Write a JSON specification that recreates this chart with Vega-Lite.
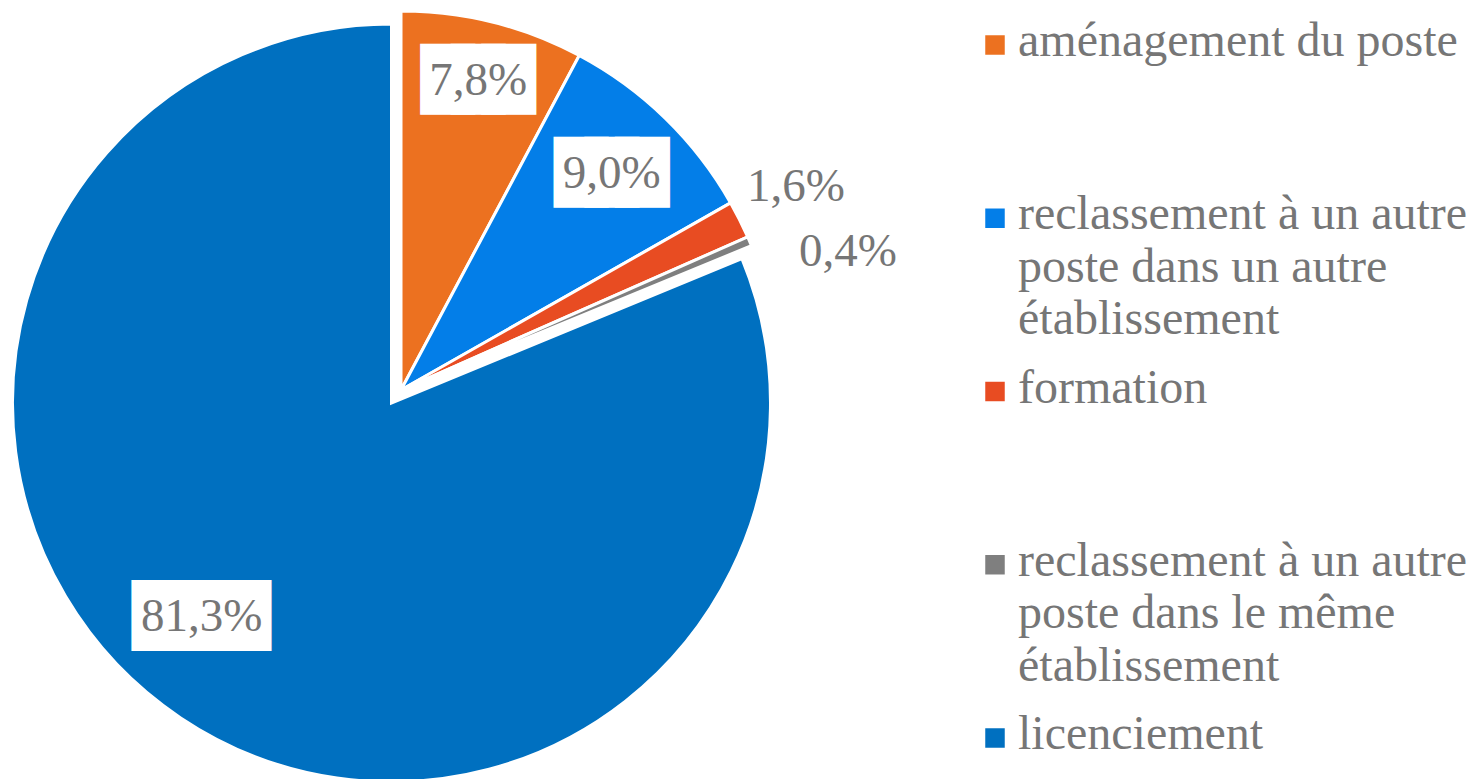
{
  "$schema": "https://vega.github.io/schema/vega-lite/v6.json",
  "padding": 0,
  "spacing": 0,
  "bounds": "flush",
  "background": "white",
  "datasets": {
    "d": [
      {"rank": 1, "cat": "aménagement du poste", "value": 7.8, "lab": "7,8%", "leg": "aménagement du poste"},
      {"rank": 2, "cat": "reclassement à un autre poste dans un autre établissement", "value": 9.0, "lab": "9,0%", "leg": "reclassement à un autre\nposte dans un autre\nétablissement"},
      {"rank": 3, "cat": "formation", "value": 1.6, "lab": "1,6%", "leg": "formation"},
      {"rank": 4, "cat": "reclassement à un autre poste dans le même établissement", "value": 0.4, "lab": "0,4%", "leg": "reclassement à un autre\nposte dans le même\nétablissement"},
      {"rank": 5, "cat": "licenciement", "value": 81.3, "lab": "81,3%", "leg": "licenciement"}
    ]
  },
  "hconcat": [
    {
      "width": 802,
      "height": 780,
      "data": {"name": "d"},
      "encoding": {
        "theta": {"field": "value", "type": "quantitative", "stack": true},
        "order": {"field": "rank", "type": "quantitative"},
        "detail": {"field": "cat", "type": "nominal"}
      },
      "resolve": {"scale": {"theta": "independent"}},
      "layer": [
        {
          "mark": {"type": "arc", "radius": 379, "stroke": "white", "strokeWidth": 3},
          "encoding": {
            "color": {"field": "cat", "type": "nominal", "legend": null,
              "scale": {"domain": ["aménagement du poste", "reclassement à un autre poste dans un autre établissement", "formation", "reclassement à un autre poste dans le même établissement", "licenciement"],
                        "range": ["#EC7120", "#037EE8", "#E84C22", "#7F7F7F", "#0070C0"]}},
            "opacity": {"condition": {"test": "datum.rank == 5", "value": 0}, "value": 1}
          }
        },
        {
          "mark": {"type": "arc", "radius": 379, "stroke": "white", "strokeWidth": 3, "xOffset": -9.5, "yOffset": 13},
          "encoding": {
            "color": {"field": "cat", "type": "nominal", "legend": null,
              "scale": {"domain": ["aménagement du poste", "reclassement à un autre poste dans un autre établissement", "formation", "reclassement à un autre poste dans le même établissement", "licenciement"],
                        "range": ["#EC7120", "#037EE8", "#E84C22", "#7F7F7F", "#0070C0"]}},
            "opacity": {"condition": {"test": "datum.rank == 5", "value": 1}, "value": 0}
          }
        },
        {
          "mark": {"type": "text", "radius": 319, "font": "DejaVu Sans", "fontSize": 39.8, "fill": "white", "stroke": "white", "strokeWidth": 23.8, "strokeJoin": "miter", "align": "center", "baseline": "middle"},
          "encoding": {"text": {"condition": {"test": "datum.rank == 1", "value": "███"}, "value": ""}}
        },
        {
          "mark": {"type": "text", "radius": 319, "font": "Liberation Serif", "fontSize": 47, "fill": "#767676", "align": "center", "baseline": "middle"},
          "encoding": {"text": {"condition": {"test": "datum.rank == 1", "field": "lab", "type": "nominal"}, "value": ""}}
        },
        {
          "mark": {"type": "text", "radius": 302, "font": "DejaVu Sans", "fontSize": 39.8, "fill": "white", "stroke": "white", "strokeWidth": 23.8, "strokeJoin": "miter", "align": "center", "baseline": "middle"},
          "encoding": {"text": {"condition": {"test": "datum.rank == 2", "value": "███"}, "value": ""}}
        },
        {
          "mark": {"type": "text", "radius": 302, "font": "Liberation Serif", "fontSize": 47, "fill": "#767676", "align": "center", "baseline": "middle"},
          "encoding": {"text": {"condition": {"test": "datum.rank == 2", "field": "lab", "type": "nominal"}, "value": ""}}
        },
        {
          "mark": {"type": "text", "radius": 444, "font": "Liberation Serif", "fontSize": 47, "fill": "#767676", "align": "center", "baseline": "middle"},
          "encoding": {
            "theta": {"field": "value", "type": "quantitative", "stack": true, "scale": {"range": [0.6981, 2.9618]}},
            "text": {"condition": {"test": "datum.rank == 3", "field": "lab", "type": "nominal"}, "value": ""}
          }
        },
        {
          "mark": {"type": "text", "radius": 468, "font": "Liberation Serif", "fontSize": 47, "fill": "#767676", "align": "center", "baseline": "middle"},
          "encoding": {
            "theta": {"field": "value", "type": "quantitative", "stack": true, "scale": {"range": [0.7854, 3.3965]}},
            "text": {"condition": {"test": "datum.rank == 4", "field": "lab", "type": "nominal"}, "value": ""}
          }
        },
        {
          "mark": {"type": "text", "radius": 286, "thetaOffset": 0.136, "dx": -9.5, "dy": 13, "font": "DejaVu Sans", "fontSize": 36.3, "fill": "white", "stroke": "white", "strokeWidth": 27.7, "strokeJoin": "miter", "align": "center", "baseline": "middle"},
          "encoding": {"text": {"condition": {"test": "datum.rank == 5", "value": "████"}, "value": ""}}
        },
        {
          "mark": {"type": "text", "radius": 286, "thetaOffset": 0.136, "dx": -9.5, "dy": 13, "font": "Liberation Serif", "fontSize": 47, "fill": "#767676", "align": "center", "baseline": "middle"},
          "encoding": {"text": {"condition": {"test": "datum.rank == 5", "field": "lab", "type": "nominal"}, "value": ""}}
        }
      ]
    },
    {
      "width": 386,
      "height": 779,
      "data": {"name": "d"},
      "encoding": {
        "y": {"field": "cat", "type": "nominal", "axis": null,
          "scale": {"type": "point", "padding": 0, "domain": ["aménagement du poste", "reclassement à un autre poste dans un autre établissement", "formation", "reclassement à un autre poste dans le même établissement", "licenciement"], "range": [45, 738]}}
      },
      "layer": [
        {
          "mark": {"type": "point", "shape": "square", "filled": true, "size": 380, "opacity": 1, "strokeWidth": 0},
          "encoding": {
            "color": {"field": "cat", "type": "nominal", "legend": null,
              "scale": {"domain": ["aménagement du poste", "reclassement à un autre poste dans un autre établissement", "formation", "reclassement à un autre poste dans le même établissement", "licenciement"],
                        "range": ["#EC7120", "#037EE8", "#E84C22", "#7F7F7F", "#0070C0"]}}
          }
        },
        {
          "mark": {"type": "text", "align": "left", "baseline": "alphabetic", "dx": 23, "dy": 11, "font": "Liberation Serif", "fontSize": 48, "lineBreak": "\n", "lineHeight": 52.5, "fill": "#767676"},
          "encoding": {"text": {"field": "leg", "type": "nominal"}}
        }
      ]
    }
  ],
  "config": {"view": {"stroke": null}}
}
